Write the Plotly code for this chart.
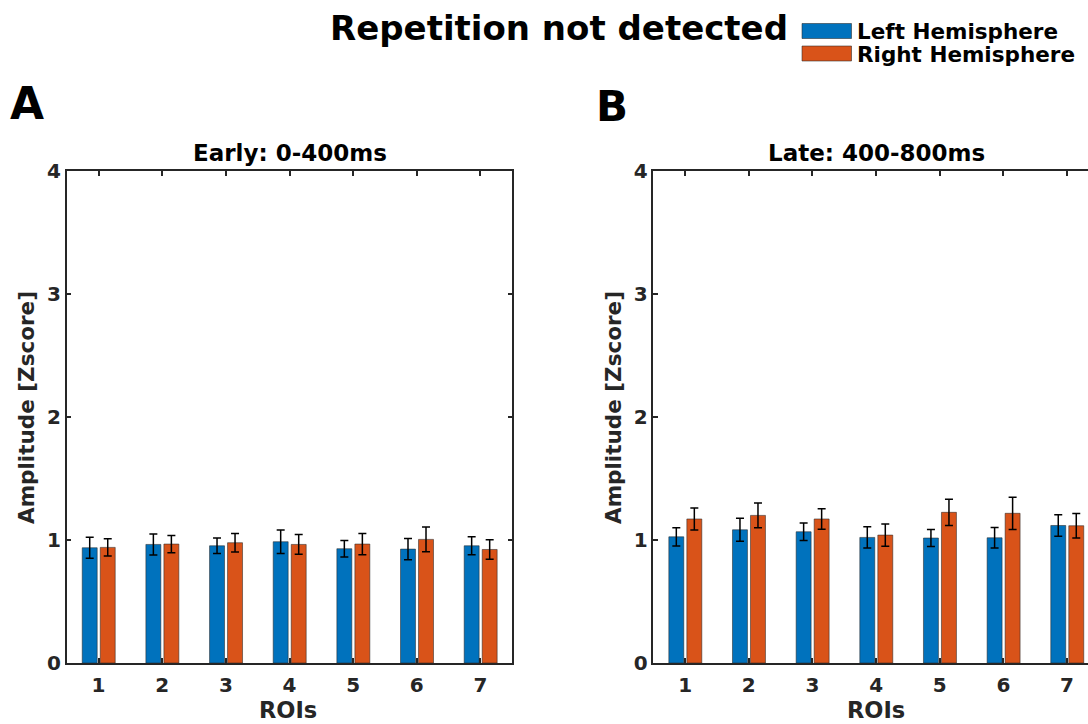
import plotly.graph_objects as go

# ROI amplitudes (z-scored), mean and error per hemisphere
rois = [1, 2, 3, 4, 5, 6, 7]
roi_labels = ["1", "2", "3", "4", "5", "6", "7"]

early_left = [0.937, 0.964, 0.953, 0.986, 0.929, 0.926, 0.953]
early_left_err = [0.085, 0.085, 0.063, 0.095, 0.067, 0.087, 0.073]
early_right = [0.940, 0.967, 0.978, 0.964, 0.967, 1.005, 0.923]
early_right_err = [0.070, 0.070, 0.075, 0.080, 0.086, 0.100, 0.079]

late_left = [1.026, 1.083, 1.067, 1.021, 1.016, 1.018, 1.118]
late_left_err = [0.074, 0.093, 0.071, 0.087, 0.069, 0.084, 0.087]
late_right = [1.171, 1.200, 1.171, 1.040, 1.225, 1.217, 1.116]
late_right_err = [0.090, 0.100, 0.083, 0.090, 0.107, 0.131, 0.100]

y_ticks = [0, 1, 2, 3, 4]

W, H = 1088, 724
BLUE = "#0072BD"
ORANGE = "#D95319"
AXC = "#262626"
FONT = "DejaVu Sans"


def px_x(v):
    return v / W


def px_y(v):
    return 1 - v / H


BAR_W = 0.235
OFF_L = -0.256
OFF_R = 0.027

fig = go.Figure()


def add_pair(left, left_err, right, right_err, xa, ya):
    for vals, errs, color, off in ((left, left_err, BLUE, OFF_L),
                                   (right, right_err, ORANGE, OFF_R)):
        fig.add_trace(go.Bar(
            x=rois, y=vals, xaxis=xa, yaxis=ya,
            width=BAR_W, offset=off,
            marker=dict(color=color, line=dict(color="rgba(40,40,40,0.55)", width=1)),
            error_y=dict(type="data", array=errs, color="black", thickness=1.5, width=4),
            showlegend=False,
        ))


add_pair(early_left, early_left_err, early_right, early_right_err, "x", "y")
add_pair(late_left, late_left_err, late_right, late_right_err, "x2", "y2")

tick_font = dict(family=FONT, size=20, color=AXC, weight="bold")

xcommon = dict(
    tickvals=rois, ticktext=roi_labels, ticks="inside", ticklen=5, tickwidth=1.5,
    tickcolor=AXC, showline=True, linecolor=AXC, linewidth=1.5,
    showgrid=False, zeroline=False, tickfont=tick_font, automargin=False,
    ticklabelstandoff=3,
)
ycommon = dict(
    range=[0, 4], tickvals=y_ticks, ticks="inside", ticklen=5, tickwidth=1.5,
    tickcolor=AXC, showline=True, linecolor=AXC, linewidth=1.5,
    showgrid=False, zeroline=False, tickfont=tick_font, automargin=False,
    domain=[px_y(663), px_y(171)],
)

# the second panel runs past the right edge of the page
unit_px = (512.3 - 66.7) / 7.0
right_end = 0.5 + (W - 653.3) / unit_px

fig.update_layout(
    width=W, height=H,
    margin=dict(l=0, r=0, t=0, b=0, autoexpand=False),
    paper_bgcolor="white", plot_bgcolor="white",
    barmode="overlay",
    xaxis=dict(domain=[px_x(66.7), px_x(512.3)], range=[0.5, 7.5], anchor="y",
               mirror="ticks", **xcommon),
    yaxis=dict(anchor="x", mirror="ticks", **ycommon),
    xaxis2=dict(domain=[px_x(653.3), 1.0], range=[0.5, right_end], anchor="y2",
                mirror="ticks", **xcommon),
    yaxis2=dict(anchor="x2", mirror=False, **ycommon),
)


def txt(text, x, y, size, xanchor="center", angle=0, color="black"):
    return dict(text=text, x=px_x(x), y=px_y(y), xanchor=xanchor, yanchor="middle",
                textangle=angle, xref="paper", yref="paper", showarrow=False,
                font=dict(family=FONT, size=size, color=color, weight="bold"))


annotations = [
    txt("Repetition not detected", 559, 28, 34),
    txt("Early: 0-400ms", 289.5, 153, 23),
    txt("Late: 400-800ms", 876, 153, 23),
    txt("A", 8, 103, 44, xanchor="left"),
    txt("B", 594, 106, 42, xanchor="left"),
    txt("Left Hemisphere", 855, 31.5, 21.5, xanchor="left"),
    txt("Right Hemisphere", 855, 55, 21.5, xanchor="left"),
    # axis titles
    txt("Amplitude [Zscore]", 26, 408, 21.5, angle=-90, color=AXC),
    txt("Amplitude [Zscore]", 613, 408, 21.5, angle=-90, color=AXC),
    txt("ROIs", 288, 710, 22.5, color=AXC),
    txt("ROIs", 876, 710, 22.5, color=AXC),
]
fig.update_layout(annotations=annotations)

# legend swatches
for top, bottom, color in ((23.5, 38.5, BLUE), (46, 61, ORANGE)):
    fig.add_shape(type="rect", xref="paper", yref="paper",
                  x0=px_x(802), x1=px_x(851.5), y0=px_y(bottom), y1=px_y(top),
                  fillcolor=color, line=dict(color="rgba(40,40,40,0.55)", width=1))

fig.write_html("out.html")
